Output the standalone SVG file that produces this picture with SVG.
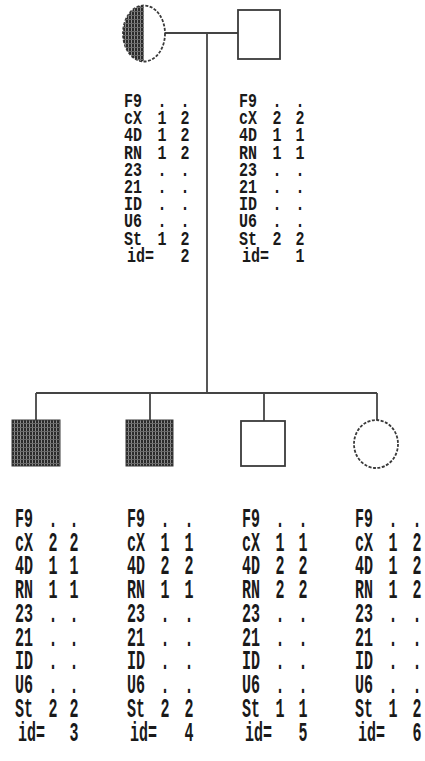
<svg xmlns="http://www.w3.org/2000/svg" width="425" height="761" viewBox="0 0 425 761">
<style>
.ln{stroke:#444;stroke-width:1.8;fill:none}
.sh{stroke:#3a3a3a;stroke-width:1.8;fill:#fff}
.t{font-family:"Liberation Mono",monospace;font-weight:bold;font-size:15px;fill:#1a1a1a}
.a{text-anchor:middle}
</style>
<defs>
<pattern id="hatch" width="3" height="4" patternUnits="userSpaceOnUse">
<rect width="3" height="4" fill="#2b2b2b"/>
<rect x="2" width="1" height="4" fill="#8a8a8a"/>
<rect y="3" width="3" height="1" fill="#6a6a6a"/>
</pattern>
<clipPath id="lefthalf"><rect x="100" y="0" width="44" height="70"/></clipPath>
</defs>
<g id="connectors">
<line class="ln" x1="165" y1="33" x2="238" y2="33"/>
<line class="ln" x1="207" y1="33" x2="207" y2="393"/>
<line class="ln" x1="36" y1="393" x2="377" y2="393"/>
<line class="ln" x1="36" y1="393" x2="36" y2="420"/>
<line class="ln" x1="150" y1="393" x2="150" y2="420"/>
<line class="ln" x1="264" y1="393" x2="264" y2="421"/>
<line class="ln" x1="377" y1="393" x2="377" y2="420"/>
</g>
<g id="node2">
<ellipse class="sh" cx="144" cy="33.5" rx="21" ry="28" stroke-dasharray="3 1.5"/>
<ellipse cx="144" cy="33.5" rx="21" ry="28" fill="url(#hatch)" clip-path="url(#lefthalf)"/>
<g class="t" transform="translate(0,107) scale(1,1.34)">
<text y="0"><tspan x="124">F9</tspan><tspan class="a" x="162">.</tspan><tspan class="a" x="185">.</tspan></text>
<text y="12.84"><tspan x="124">cX</tspan><tspan class="a" x="162">1</tspan><tspan class="a" x="185">2</tspan></text>
<text y="25.67"><tspan x="124">4D</tspan><tspan class="a" x="162">1</tspan><tspan class="a" x="185">2</tspan></text>
<text y="38.51"><tspan x="124">RN</tspan><tspan class="a" x="162">1</tspan><tspan class="a" x="185">2</tspan></text>
<text y="51.34"><tspan x="124">23</tspan><tspan class="a" x="162">.</tspan><tspan class="a" x="185">.</tspan></text>
<text y="64.18"><tspan x="124">21</tspan><tspan class="a" x="162">.</tspan><tspan class="a" x="185">.</tspan></text>
<text y="77.01"><tspan x="124">ID</tspan><tspan class="a" x="162">.</tspan><tspan class="a" x="185">.</tspan></text>
<text y="89.85"><tspan x="124">U6</tspan><tspan class="a" x="162">.</tspan><tspan class="a" x="185">.</tspan></text>
<text y="102.69"><tspan x="124">St</tspan><tspan class="a" x="162">1</tspan><tspan class="a" x="185">2</tspan></text>
<text y="115.52"><tspan x="127">id=</tspan><tspan class="a" x="185">2</tspan></text>
</g>
</g>
<g id="node1">
<rect class="sh" x="238" y="10" width="42" height="49"/>
<g class="t" transform="translate(0,107) scale(1,1.34)">
<text y="0"><tspan x="239">F9</tspan><tspan class="a" x="277">.</tspan><tspan class="a" x="300">.</tspan></text>
<text y="12.84"><tspan x="239">cX</tspan><tspan class="a" x="277">2</tspan><tspan class="a" x="300">2</tspan></text>
<text y="25.67"><tspan x="239">4D</tspan><tspan class="a" x="277">1</tspan><tspan class="a" x="300">1</tspan></text>
<text y="38.51"><tspan x="239">RN</tspan><tspan class="a" x="277">1</tspan><tspan class="a" x="300">1</tspan></text>
<text y="51.34"><tspan x="239">23</tspan><tspan class="a" x="277">.</tspan><tspan class="a" x="300">.</tspan></text>
<text y="64.18"><tspan x="239">21</tspan><tspan class="a" x="277">.</tspan><tspan class="a" x="300">.</tspan></text>
<text y="77.01"><tspan x="239">ID</tspan><tspan class="a" x="277">.</tspan><tspan class="a" x="300">.</tspan></text>
<text y="89.85"><tspan x="239">U6</tspan><tspan class="a" x="277">.</tspan><tspan class="a" x="300">.</tspan></text>
<text y="102.69"><tspan x="239">St</tspan><tspan class="a" x="277">2</tspan><tspan class="a" x="300">2</tspan></text>
<text y="115.52"><tspan x="242">id=</tspan><tspan class="a" x="300">1</tspan></text>
</g>
</g>
<g id="node3">
<rect x="12" y="420" width="48" height="46" fill="url(#hatch)" stroke="#3a3a3a" stroke-width="1"/>
<g class="t" transform="translate(0,527) scale(1,1.9)">
<text y="0"><tspan x="15">F9</tspan><tspan class="a" x="53">.</tspan><tspan class="a" x="74">.</tspan></text>
<text y="12.5"><tspan x="15">cX</tspan><tspan class="a" x="53">2</tspan><tspan class="a" x="74">2</tspan></text>
<text y="25"><tspan x="15">4D</tspan><tspan class="a" x="53">1</tspan><tspan class="a" x="74">1</tspan></text>
<text y="37.5"><tspan x="15">RN</tspan><tspan class="a" x="53">1</tspan><tspan class="a" x="74">1</tspan></text>
<text y="50"><tspan x="15">23</tspan><tspan class="a" x="53">.</tspan><tspan class="a" x="74">.</tspan></text>
<text y="62.5"><tspan x="15">21</tspan><tspan class="a" x="53">.</tspan><tspan class="a" x="74">.</tspan></text>
<text y="75"><tspan x="15">ID</tspan><tspan class="a" x="53">.</tspan><tspan class="a" x="74">.</tspan></text>
<text y="87.5"><tspan x="15">U6</tspan><tspan class="a" x="53">.</tspan><tspan class="a" x="74">.</tspan></text>
<text y="100"><tspan x="15">St</tspan><tspan class="a" x="53">2</tspan><tspan class="a" x="74">2</tspan></text>
<text y="112.5"><tspan x="18">id=</tspan><tspan class="a" x="74">3</tspan></text>
</g>
</g>
<g id="node4">
<rect x="126" y="420" width="47" height="46" fill="url(#hatch)" stroke="#3a3a3a" stroke-width="1"/>
<g class="t" transform="translate(0,527) scale(1,1.9)">
<text y="0"><tspan x="127">F9</tspan><tspan class="a" x="165">.</tspan><tspan class="a" x="189">.</tspan></text>
<text y="12.5"><tspan x="127">cX</tspan><tspan class="a" x="165">1</tspan><tspan class="a" x="189">1</tspan></text>
<text y="25"><tspan x="127">4D</tspan><tspan class="a" x="165">2</tspan><tspan class="a" x="189">2</tspan></text>
<text y="37.5"><tspan x="127">RN</tspan><tspan class="a" x="165">1</tspan><tspan class="a" x="189">1</tspan></text>
<text y="50"><tspan x="127">23</tspan><tspan class="a" x="165">.</tspan><tspan class="a" x="189">.</tspan></text>
<text y="62.5"><tspan x="127">21</tspan><tspan class="a" x="165">.</tspan><tspan class="a" x="189">.</tspan></text>
<text y="75"><tspan x="127">ID</tspan><tspan class="a" x="165">.</tspan><tspan class="a" x="189">.</tspan></text>
<text y="87.5"><tspan x="127">U6</tspan><tspan class="a" x="165">.</tspan><tspan class="a" x="189">.</tspan></text>
<text y="100"><tspan x="127">St</tspan><tspan class="a" x="165">2</tspan><tspan class="a" x="189">2</tspan></text>
<text y="112.5"><tspan x="130">id=</tspan><tspan class="a" x="189">4</tspan></text>
</g>
</g>
<g id="node5">
<rect class="sh" x="241" y="421" width="44" height="45"/>
<g class="t" transform="translate(0,527) scale(1,1.9)">
<text y="0"><tspan x="242">F9</tspan><tspan class="a" x="280">.</tspan><tspan class="a" x="303">.</tspan></text>
<text y="12.5"><tspan x="242">cX</tspan><tspan class="a" x="280">1</tspan><tspan class="a" x="303">1</tspan></text>
<text y="25"><tspan x="242">4D</tspan><tspan class="a" x="280">2</tspan><tspan class="a" x="303">2</tspan></text>
<text y="37.5"><tspan x="242">RN</tspan><tspan class="a" x="280">2</tspan><tspan class="a" x="303">2</tspan></text>
<text y="50"><tspan x="242">23</tspan><tspan class="a" x="280">.</tspan><tspan class="a" x="303">.</tspan></text>
<text y="62.5"><tspan x="242">21</tspan><tspan class="a" x="280">.</tspan><tspan class="a" x="303">.</tspan></text>
<text y="75"><tspan x="242">ID</tspan><tspan class="a" x="280">.</tspan><tspan class="a" x="303">.</tspan></text>
<text y="87.5"><tspan x="242">U6</tspan><tspan class="a" x="280">.</tspan><tspan class="a" x="303">.</tspan></text>
<text y="100"><tspan x="242">St</tspan><tspan class="a" x="280">1</tspan><tspan class="a" x="303">1</tspan></text>
<text y="112.5"><tspan x="245">id=</tspan><tspan class="a" x="303">5</tspan></text>
</g>
</g>
<g id="node6">
<ellipse class="sh" cx="376" cy="444" rx="22" ry="24" stroke-dasharray="3 1.5"/>
<g class="t" transform="translate(0,527) scale(1,1.9)">
<text y="0"><tspan x="355">F9</tspan><tspan class="a" x="393">.</tspan><tspan class="a" x="417">.</tspan></text>
<text y="12.5"><tspan x="355">cX</tspan><tspan class="a" x="393">1</tspan><tspan class="a" x="417">2</tspan></text>
<text y="25"><tspan x="355">4D</tspan><tspan class="a" x="393">1</tspan><tspan class="a" x="417">2</tspan></text>
<text y="37.5"><tspan x="355">RN</tspan><tspan class="a" x="393">1</tspan><tspan class="a" x="417">2</tspan></text>
<text y="50"><tspan x="355">23</tspan><tspan class="a" x="393">.</tspan><tspan class="a" x="417">.</tspan></text>
<text y="62.5"><tspan x="355">21</tspan><tspan class="a" x="393">.</tspan><tspan class="a" x="417">.</tspan></text>
<text y="75"><tspan x="355">ID</tspan><tspan class="a" x="393">.</tspan><tspan class="a" x="417">.</tspan></text>
<text y="87.5"><tspan x="355">U6</tspan><tspan class="a" x="393">.</tspan><tspan class="a" x="417">.</tspan></text>
<text y="100"><tspan x="355">St</tspan><tspan class="a" x="393">1</tspan><tspan class="a" x="417">2</tspan></text>
<text y="112.5"><tspan x="358">id=</tspan><tspan class="a" x="417">6</tspan></text>
</g>
</g>
</svg>
